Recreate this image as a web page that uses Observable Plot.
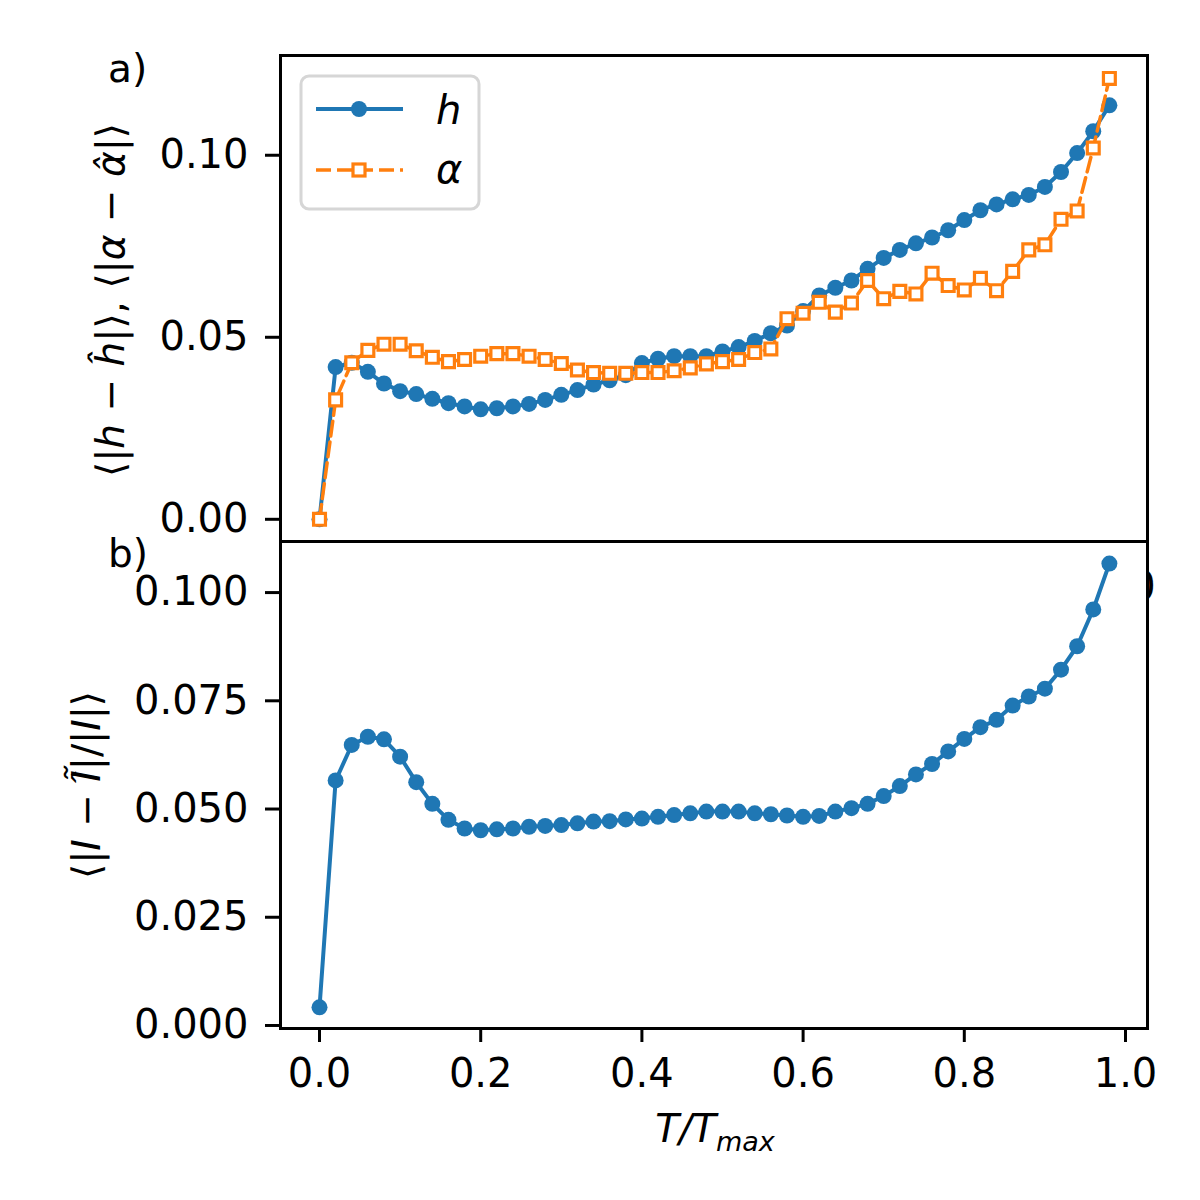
<!DOCTYPE html>
<html><head><meta charset="utf-8">
<script src="https://cdn.jsdelivr.net/npm/d3@7"></script>
<script src="https://cdn.jsdelivr.net/npm/@observablehq/plot@0.6"></script>
<style>
body{margin:0;background:#fff;overflow:hidden;}
#wrap{position:relative;width:1200px;height:1200px;font-family:"DejaVu Sans";}
#wrap svg{position:absolute;left:0;overflow:visible;background:transparent;}
</style></head><body><div id="wrap"></div>
<script>
const tRatio = [0,0.02,0.04,0.06,0.08,0.10,0.12,0.14,0.16,0.18,0.20,0.22,0.24,0.26,0.28,0.30,0.32,0.34,0.36,0.38,0.40,0.42,0.44,0.46,0.48,0.50,0.52,0.54,0.56,0.58,0.60,0.62,0.64,0.66,0.68,0.70,0.72,0.74,0.76,0.78,0.80,0.82,0.84,0.86,0.88,0.90,0.92,0.94,0.96,0.98];
const hErr = [0,0.0418,0.0430,0.0405,0.0373,0.0352,0.0344,0.0331,0.0319,0.0310,0.0302,0.0305,0.0310,0.0317,0.0328,0.0342,0.0355,0.0370,0.0382,0.0396,0.0429,0.0441,0.0448,0.0448,0.0448,0.0461,0.0473,0.0490,0.0511,0.0532,0.0572,0.0615,0.0636,0.0656,0.0688,0.0718,0.0740,0.0758,0.0774,0.0794,0.0822,0.0849,0.0865,0.0879,0.0891,0.0913,0.0954,0.1006,0.1066,0.1137];
const alphaErr = [0,0.0328,0.0430,0.0464,0.0481,0.0481,0.0463,0.0445,0.0433,0.0439,0.0448,0.0455,0.0455,0.0448,0.0439,0.0428,0.0410,0.0403,0.0401,0.0401,0.0403,0.0403,0.0408,0.0416,0.0427,0.0433,0.0439,0.0458,0.0468,0.0551,0.0566,0.0596,0.0569,0.0594,0.0656,0.0606,0.0626,0.0619,0.0676,0.0642,0.0630,0.0662,0.0628,0.0681,0.0740,0.0754,0.0824,0.0847,0.1020,0.1211];
const iErr = [0.0042,0.0566,0.0648,0.0667,0.0661,0.0621,0.0562,0.0512,0.0475,0.0455,0.0451,0.0453,0.0455,0.0459,0.0461,0.0463,0.0467,0.0471,0.0472,0.0476,0.0478,0.0482,0.0486,0.0490,0.0494,0.0494,0.0494,0.0490,0.0488,0.0485,0.0482,0.0484,0.0494,0.0502,0.0512,0.0530,0.0553,0.0580,0.0604,0.0633,0.0662,0.0689,0.0706,0.0739,0.0760,0.0778,0.0822,0.0876,0.0961,0.1067];
const xTicks = [0,0.2,0.4,0.6,0.8,1.0];
const yTicksTop = [0,0.05,0.10];
const yTicksBottom = [0,0.025,0.05,0.075,0.10];
const seriesNames = ["h","α"];

const blue = "#1f77b4", orange = "#ff7f0e";
const rows = tRatio.map((t,i)=>({t, h:hErr[i], a:alphaErr[i], I:iErr[i]}));
const xDomain = [-0.0484, 1.0273];
const baseStyle = {fontFamily:"DejaVu Sans", fontSize:"40px", background:"transparent", overflow:"visible", color:"black"};
const wrap = document.getElementById("wrap");

const topPlot = Plot.plot({
  width:1200, height:545, marginTop:55, marginBottom:4, marginLeft:280, marginRight:53,
  x:{domain:xDomain, axis:null},
  y:{domain:[-0.0061,0.1274]},
  style:baseStyle,
  marks:[
    Plot.frame({fill:"white"}),
    Plot.axisY({ticks:yTicksTop, tickFormat:d3.format(".2f"), tickSize:15, tickPadding:17, strokeWidth:3, label:null, fontSize:40}),
    Plot.line(rows,{x:"t", y:"h", stroke:blue, strokeWidth:4}),
    Plot.dot(rows,{x:"t", y:"h", r:8, fill:blue}),
    Plot.line(rows,{x:"t", y:"a", stroke:orange, strokeWidth:3.5, strokeDasharray:"15,6"}),
    Plot.dot(rows,{x:"t", y:"a", symbol:"square", r:6.7, stroke:orange, strokeWidth:3.2, fill:"white"}),
    Plot.frame({stroke:"black", strokeWidth:3})
  ]
});
topPlot.style.top = "0px";

const botPlot = Plot.plot({
  width:1200, height:670, marginTop:11, marginBottom:172, marginLeft:280, marginRight:53,
  x:{domain:xDomain},
  y:{domain:[-0.0007,0.1118]},
  style:baseStyle,
  marks:[
    Plot.frame({fill:"white"}),
    Plot.axisY({ticks:yTicksBottom, tickFormat:d3.format(".3f"), tickSize:15, tickPadding:17, strokeWidth:3, label:null, fontSize:40}),
    Plot.axisX({ticks:xTicks, tickFormat:d3.format(".1f"), tickSize:14, tickPadding:16, strokeWidth:3, label:null, fontSize:40}),
    Plot.line(rows,{x:"t", y:"I", stroke:blue, strokeWidth:4}),
    Plot.dot(rows,{x:"t", y:"I", r:8, fill:blue}),
    Plot.frame({stroke:"black", strokeWidth:3})
  ]
});
botPlot.style.top = "530px";

wrap.appendChild(topPlot);
wrap.appendChild(botPlot);

function addParts(sel, parts){
  parts.forEach(p=>{
    const sp = sel.append("tspan").text(p[0]);
    if (p[1]) sp.attr("font-style","italic");
  });
}

// ---- top annotations ----
const ts = d3.select(topPlot);
ts.append("text").attr("x",108).attr("y",82).attr("text-anchor","start").attr("font-size",39).text("a)");
const yl1 = ts.append("text").attr("transform","translate(124,300) rotate(-90)").attr("text-anchor","middle").attr("font-size",39);
addParts(yl1, [["⟨|"],["h",1],[" − "],["ĥ",1],["|⟩, ⟨|"],["α",1],[" − "],["α̂",1],["|⟩"]]);

const lg = ts.append("g");
lg.append("rect").attr("x",301).attr("y",76).attr("width",178).attr("height",133).attr("rx",8)
  .attr("fill","white").attr("fill-opacity",0.8).attr("stroke","#d6d6d6").attr("stroke-width",3);
lg.append("line").attr("x1",316).attr("x2",403).attr("y1",109).attr("y2",109).attr("stroke",blue).attr("stroke-width",4);
lg.append("circle").attr("cx",359).attr("cy",109).attr("r",8).attr("fill",blue);
lg.append("line").attr("x1",316).attr("x2",403).attr("y1",170).attr("y2",170).attr("stroke",orange).attr("stroke-width",3.5).attr("stroke-dasharray","15,6");
lg.append("rect").attr("x",359-6).attr("y",170-6).attr("width",12).attr("height",12).attr("fill","white").attr("stroke",orange).attr("stroke-width",3.2);
lg.append("text").attr("x",436).attr("y",124).attr("text-anchor","start").attr("font-size",40).attr("font-style","italic").text(seriesNames[0]);
lg.append("text").attr("x",436).attr("y",183).attr("text-anchor","start").attr("font-size",40).attr("font-style","italic").text(seriesNames[1]);

// ---- bottom annotations ----
const bs = d3.select(botPlot);
bs.insert("text",":first-child").attr("x",1143).attr("y",70).attr("text-anchor","middle").attr("font-size",40).text("0");
bs.append("text").attr("x",108).attr("y",37).attr("text-anchor","start").attr("font-size",39).text("b)");
const yl2 = bs.append("text").attr("transform","translate(100,255) rotate(-90)").attr("text-anchor","middle").attr("font-size",39);
addParts(yl2, [["⟨|"],["I",1],[" − "],["Ĩ̂",1],["|/|"],["I",1],["|⟩"]]);
const xl = bs.append("text").attr("x",715).attr("y",612).attr("text-anchor","middle").attr("font-size",39).attr("font-style","italic");
xl.append("tspan").text("T/T");
xl.append("tspan").attr("font-size",27).attr("dy",9).text("max");
</script></body></html>
